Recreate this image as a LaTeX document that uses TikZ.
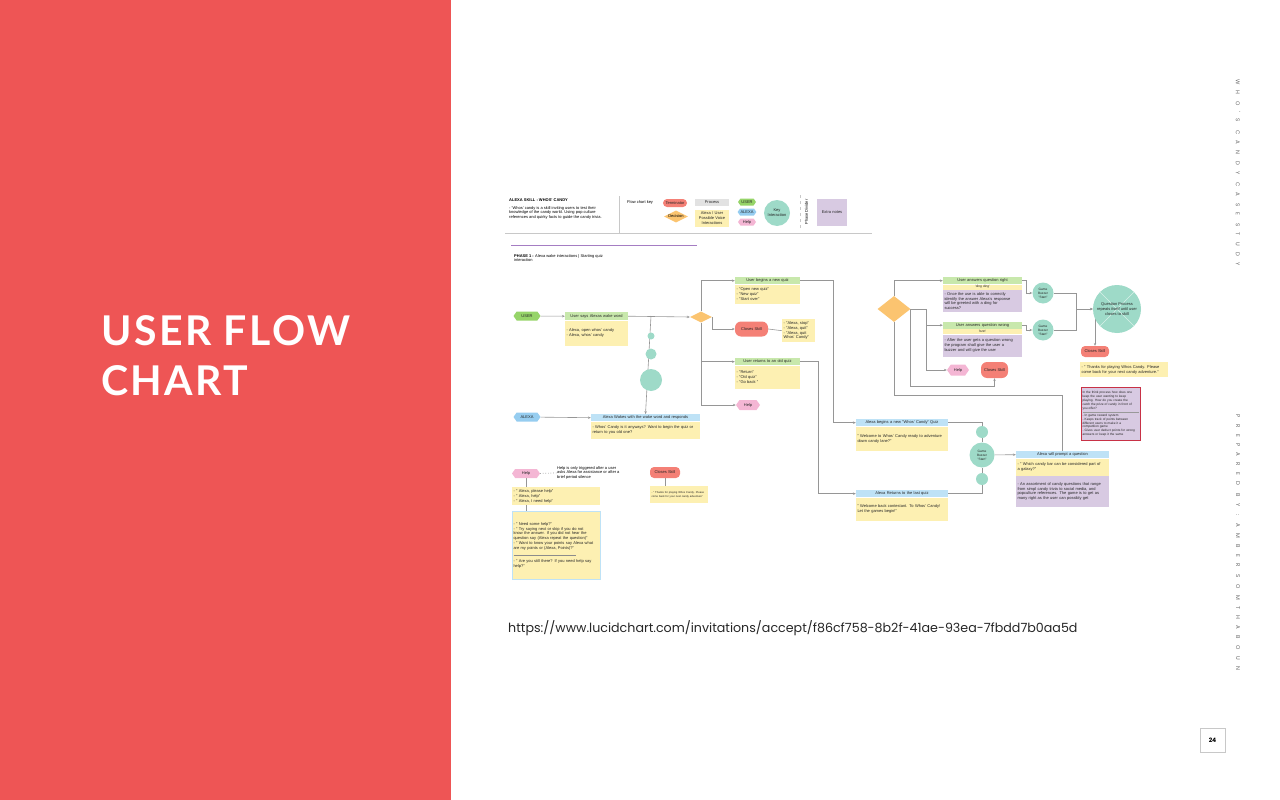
\documentclass[tikz,border=0pt]{standalone}
\usepackage{fontspec}
\setmainfont{Liberation Sans}
\newfontfamily\titlefont{Lato}
\newfontfamily\urlfont{Poppins}
\usetikzlibrary{positioning,shapes.geometric,shapes.symbols,arrows.meta,backgrounds}

\definecolor{panelred}{RGB}{238,85,85}
\definecolor{hdrgreen}{RGB}{200,232,172}
\definecolor{hdrblue}{RGB}{190,226,246}
\definecolor{bodyyellow}{RGB}{253,240,178}
\definecolor{notepurple}{RGB}{216,202,226}
\definecolor{notered}{RGB}{200,50,70}
\definecolor{procgray}{RGB}{226,226,226}
\definecolor{tagusr}{RGB}{150,212,105}
\definecolor{tagalx}{RGB}{150,205,240}
\definecolor{taghelp}{RGB}{244,182,212}
\definecolor{pillred}{RGB}{244,128,118}
\definecolor{decorange}{RGB}{251,196,112}
\definecolor{keyteal}{RGB}{158,218,200}
\definecolor{linegray}{RGB}{150,150,150}
\definecolor{rulegray}{RGB}{200,200,200}
\definecolor{phasepurple}{RGB}{165,125,195}

\newcommand{\cf}{\fontsize{4}{4.8}\selectfont}
\newcommand{\cfs}{\fontsize{3.2}{3.9}\selectfont}
\newcommand{\cfxs}{\fontsize{2.7}{3.4}\selectfont}

\tikzset{
    conn/.style={draw=linegray, line width=0.6pt},
    arr/.style={conn, -{Stealth[length=2.8pt, width=2.4pt]}},
    box/.style={rectangle, anchor=north, inner xsep=1.5pt, inner ysep=0.6pt, font=\cf, align=left, text=black!85},
    hdrg/.style={box, fill=hdrgreen, align=center, minimum height=7pt},
    hdrb/.style={box, fill=hdrblue, align=center, minimum height=7pt},
    voice/.style={box, fill=bodyyellow},
    xnote/.style={box, fill=notepurple},
    tagbox/.style={signal, signal to=west and east, signal pointer angle=110, inner sep=0.5pt, font=\cf, text=black!85},
    usrtag/.style={tagbox, fill=tagusr},
    alxtag/.style={tagbox, fill=tagalx},
    hlptag/.style={tagbox, fill=taghelp},
    term/.style={rectangle, rounded corners=4pt, fill=pillred, font=\cf, inner sep=0.5pt, text=black!85},
    decision/.style={diamond, fill=decorange, inner sep=0pt},
    keyint/.style={circle, fill=keyteal, font=\cf, align=center, inner sep=0pt, text=black!85},
    sidetext/.style={rotate=-90, text=black!60, font=\urlfont\fontsize{5.5}{6}\selectfont\addfontfeature{LetterSpace=116}}
}

\begin{document}
\begin{tikzpicture}[x=1pt, y=-1pt]
    \useasboundingbox (0,0) rectangle (1280,800);

    % side panel
    \fill[panelred] (0,0) rectangle (451,800);
    \node[anchor=base west, inner sep=0pt, text=white, font=\titlefont\bfseries\fontsize{41}{50}\selectfont\addfontfeature{LetterSpace=6}] (title1) at (101,345) {USER FLOW};
    \node[anchor=base west, inner sep=0pt, text=white, font=\titlefont\bfseries\fontsize{41}{50}\selectfont\addfontfeature{LetterSpace=6}] (title2) at (101,395) {CHART};

    % right margin
    \node[sidetext] (side1) at (1238,172.5) {WHO'S CANDY CASE STUDY};
    \node[sidetext] (side2) at (1238,542.5) {PREPARED BY : AMBER SOMTHABOUN};
    \node[draw=rulegray, minimum width=25pt, minimum height=24pt, font=\urlfont\bfseries\fontsize{6}{7}\selectfont] (pgno) at (1212.5,740) {24};

    % link
    \node[anchor=base west, inner sep=0pt, text=black!85, font=\urlfont\fontsize{12.65}{14}\selectfont] (link) at (508,632) {https://www.lucidchart.com/invitations/accept/f86cf758-8b2f-41ae-93ea-7fbdd7b0aa5d};

    % chart header
    \node[anchor=west, inner sep=0pt, font=\cf\bfseries] (sktitle) at (509,200) {ALEXA SKILL : WHOS' CANDY};
    \node[anchor=north west, inner sep=0pt, font=\cf, align=left] (skdesc) at (509,206) {- 'Whos' candy is a skill inviting users to test their\\knowledge of the candy world. Using pop culture\\references and quirky facts to guide the candy trivia.};
    \draw[rulegray, line width=0.8pt] (619,196) -- (619,233);
    \draw[rulegray, line width=0.8pt] (505,233) -- (872,233);
    \node[anchor=west, inner sep=0pt, font=\cf] (keylbl) at (627,202) {Flow chart key};
    \node[term, minimum width=24pt, minimum height=8pt] (kterm) at (675,203) {Terminator};
    \node[decision, minimum width=24pt, minimum height=12pt, label={[font=\cf]center:Decision}] (kdec) at (676,216.5) {};
    \node[box, fill=procgray, anchor=center, align=center, text width=31pt, minimum height=7pt] (kproc) at (712,202.5) {Process};
    \node[voice, anchor=center, align=center, text width=31pt, minimum height=17pt] (kvoice) at (712,218) {Alexa / User\\Possible Voice\\Interactions};
    \node[usrtag, minimum width=18pt, minimum height=7pt] (kusr) at (747,202) {USER};
    \node[alxtag, minimum width=18pt, minimum height=7pt] (kalx) at (747,212) {ALEXA};
    \node[hlptag, minimum width=18pt, minimum height=7pt] (khlp) at (747,222) {Help};
    \node[keyint, minimum size=26pt] (kkey) at (777,213) {Key\\Interaction};
    \draw[rulegray, dashed] (800,195) -- (800,229);
    \node[rotate=90, inner sep=0pt, font=\cf] (kdiv) at (806.5,212) {Phase Divider};
    \node[xnote, anchor=center, align=center, text width=27pt, minimum height=27pt] (kextra) at (832,212.5) {Extra notes};

    % phase 1
    \draw[phasepurple, line width=1.6pt] (511,245.5) -- (697,245.5);
    \node[anchor=north west, inner sep=0pt, font=\cf, align=left] (phase) at (514,254) {\textbf{PHASE 1 :} Alexa wake interactions | Starting quiz\\interaction};

    % wake word
    \node[usrtag, minimum width=27pt, minimum height=9pt] (usr) at (527,316) {USER};
    \node[hdrg, text width=60pt, minimum height=8pt] (ush) at (596.5,312) {User says Alexas wake word};
    \node[voice, text width=60pt, minimum height=25pt, below=0pt of ush] (usb) {- Alexa, open whos' candy\\- Alexa, whos' candy};
    \node[decision, minimum width=22pt, minimum height=11pt] (dec1) at (701,317) {};
    \coordinate (tealtop) at (651,316);
    \node[keyint, minimum size=7pt] (tc1) at (651,336) {};
    \node[keyint, minimum size=11pt] (tc2) at (651,354) {};
    \node[keyint, minimum size=22pt] (tc3) at (651,380) {};
    \node[alxtag, minimum width=27pt, minimum height=9pt] (alx) at (527,417) {ALEXA};
    \node[hdrb, text width=106pt] (awh) at (645.5,414) {Alexa Wakes with the wake word and responds};
    \node[voice, text width=106pt, minimum height=17pt, below=0pt of awh] (awb) {- Whos' Candy is it anyways? Want to begin the quiz or\\return to you old one?};

    % user choices
    \node[hdrg, text width=62pt] (ubh) at (767.5,277) {User begins a new quiz};
    \node[voice, text width=62pt, minimum height=19pt, below=0pt of ubh] (ubb) {- "Open new quiz"\\- "New quiz"\\- "Start over"};
    \node[term, minimum width=33pt, minimum height=15pt, rounded corners=6pt] (cls1) at (751.5,329) {Closes Skill};
    \node[voice, text width=30pt, minimum height=23pt] (cls1b) at (798.5,319) {- "Alexa, stop"\\- "Alexa, quit"\\- "Alexa, quit\\Whos' Candy"};
    \node[hdrg, text width=62pt] (urh) at (767.5,358) {User returns to an old quiz};
    \node[voice, text width=62pt, minimum height=23pt, below=0pt of urh] (urb) {- "Return"\\- "Old quiz"\\- "Go back "};
    \node[hlptag, minimum width=24pt, minimum height=10pt] (hlp1) at (748,405) {Help};

    % alexa starts quiz
    \node[hdrb, text width=89pt] (anh) at (902,419) {Alexa begins a new "Whos' Candy" Quiz};
    \node[voice, text width=89pt, minimum height=24pt, below=0pt of anh] (anb) {" Welcome to Whos' Candy ready to adventure\\down candy lane?"};
    \node[hdrb, text width=89pt] (arh) at (902,490) {Alexa Returns to the last quiz};
    \node[voice, text width=89pt, minimum height=23pt, below=0pt of arh] (arb) {" Welcome back contestant. To Whos' Candy!\\Let the games begin!"};
    \node[keyint, minimum size=12pt] (bs1) at (982,432) {};
    \node[keyint, minimum size=25pt, font=\cfs] (bz1) at (982,455) {Game\\Buzzer\\"Start"};
    \node[keyint, minimum size=12pt] (bs2) at (982,479) {};
    \node[hdrb, text width=90pt] (prh) at (1062.5,451) {Alexa will prompt a question};
    \node[voice, text width=90pt, minimum height=17pt, below=0pt of prh] (prb) {- " Which candy bar can be considered part of\\a galaxy?"};
    \node[xnote, text width=90pt, minimum height=31pt, below=0pt of prb] (prn) {- An assortment of candy questions that range\\from simpl candy trivia to social media, and\\popculture references. The game is to get as\\many right as the user can possibly get};

    % answers
    \node[decision, minimum width=33pt, minimum height=26pt] (dec2) at (894,309) {};
    \node[hdrg, text width=76pt] (rgh) at (982.5,277) {User answers question right};
    \node[voice, align=center, text width=76pt, minimum height=5pt, inner ysep=0pt, font=\cfs, below=0pt of rgh] (rgy) {'ding ding'};
    \node[xnote, text width=76pt, minimum height=22pt, below=0pt of rgy] (rgn) {- Once the use is able to correctly\\identify the answer Alexa's response\\will be greeted with a ding for\\success?};
    \node[hdrg, text width=76pt] (wrh) at (982.5,321.5) {User answers question wrong};
    \node[voice, align=center, text width=76pt, minimum height=5pt, inner ysep=0pt, font=\cfs, below=0pt of wrh] (wry) {'bzzt'};
    \node[xnote, text width=76pt, minimum height=22pt, below=0pt of wry] (wrn) {- After the user gets a question wrong\\the program shall give the user a\\buzzer and will give the user};
    \node[hlptag, minimum width=22pt, minimum height=11pt] (hlp2) at (958,370) {Help};
    \node[term, minimum width=27pt, minimum height=16pt, rounded corners=6pt] (cls3) at (994.5,370) {Closes Skill};
    \node[keyint, minimum size=21pt, font=\cfs] (bz2) at (1043,293) {Game\\Buzzer\\"Start"};
    \node[keyint, minimum size=21pt, font=\cfs] (bz3) at (1043,330) {Game\\Buzzer\\"Start"};
    \node[keyint, minimum size=48pt, path picture={
        \draw[white, opacity=0.6, line width=0.6pt] (path picture bounding box.north west) -- (path picture bounding box.south east)
            (path picture bounding box.north east) -- (path picture bounding box.south west);}] (qproc) at (1117,309) {Question Process\\repeats itself until user\\closes to skill};
    \node[term, minimum width=28pt, minimum height=11pt] (cls2) at (1095,351.5) {Closes Skill};
    \node[voice, text width=85pt, minimum height=15pt] (cls2b) at (1124,362) {- " Thanks for playing Whos Candy. Please\\come back for your next candy adventure."};
    \node[xnote, draw=notered, line width=1pt, text width=56pt, minimum height=53pt, font=\cfs] (think) at (1110.5,387) {In the think process how does one\\keep the user wanting to keep\\playing. How do you create the\\catch the prize of candy in front of\\you offer?\\[-1pt]\textcolor{black!40}{\rule{56pt}{0.3pt}}\\- In game reward system\\- Keeps track of points between\\different users to make it a\\competition game\\- Gives user deduct points for wrong\\answers or keep it the same};

    % help and close
    \node[hlptag, minimum width=28pt, minimum height=9pt] (hlp3) at (526,473.5) {Help};
    \node[anchor=north west, inner sep=0pt, font=\cf, align=left] (hnote) at (557,466) {Help is only triggered after a user\\asks Alexa for assistance or after a\\brief period silence};
    \node[voice, text width=85pt, minimum height=18pt] (hlpa) at (556,487) {- " Alexa, please help"\\- " Alexa, help"\\- " Alexa, I need help"};
    \node[voice, draw=hdrblue, line width=0.8pt, text width=85pt, minimum height=68pt] (hlpb) at (556,511) {- " Need some help?"\\- " Try saying next or skip if you do not\\know the answer. If you did not hear the\\question say (Alexa repeat the question)"\\- " Want to know your points say Alexa what\\are my points or (Alexa, Points)?"\\[1pt]\textcolor{black!45}{\rule{62pt}{0.3pt}}\\[3pt]- " Are you still there? If you need help say\\help?"};
    \node[term, minimum width=30pt, minimum height=11pt] (cls4) at (665,472.5) {Closes Skill};
    \node[voice, text width=55pt, minimum height=17pt, font=\cfxs] (cls4b) at (679,486) {- " Thanks for playing Whos Candy. Please\\come back for your next candy adventure"};

    % connectors
    \begin{scope}[on background layer]
        \draw[arr] (usr) -- (ush.west);
        \draw[arr] (ush.east) -- (dec1.west);
        \draw[arr] (tealtop) -- (awh.north);
        \draw[arr] (alx) -- (awh.west);
        \draw[arr] (dec1.north) |- (ubh.west);
        \draw[arr] (dec1.east) |- (cls1.west);
        \draw[conn] (cls1.east) -- (cls1b.west);
        \draw[arr] (dec1.south) |- (urh.west);
        \draw[arr] (dec1.south) |- (hlp1.west);
        \draw[arr] (ubh.east) -- ++(33,0) |- (anh.west);
        \draw[arr] (urh.east) -- ++(18,0) |- (arh.west);
        \draw[conn] (anh.east) -| (bz1);
        \draw[conn] (arh.east) -| (bz1);
        \draw[arr] (bz1) -- (prh.west);
        \draw[conn] (prh.north) -- ++(0,-56) -| (dec2.south);
        \draw[arr] (dec2.north) |- (rgh.west);
        \draw[conn] (dec2.east) -- ++(16,0) coordinate (d2r);
        \draw[arr] (d2r) |- (wrh.west);
        \draw[arr] (d2r) |- (hlp2.west);
        \draw[arr] (dec2.east) -- ++(0,77) -| (cls3.south);
        \draw[arr] (rgh.east) -- ++(4,0) |- (bz2.west);
        \draw[arr] (wrh.east) -- ++(4,0) |- (bz3.west);
        \draw[arr] (bz2) -- ++(33,0) |- (qproc.west);
        \draw[arr] (bz3) -- ++(33,0) |- (qproc.west);
        \draw[arr] (cls2.north |- qproc.center) -- (cls2.north);
        \draw[conn, dotted, line width=0.8pt] (hlp3.east) -- (hnote.west);
        \draw[conn] (hlp3.south) -- (hlp3.south |- hlpa.north);
        \draw[conn] (hlp3.south |- hlpa.south) -- (hlp3.south |- hlpb.north);
        \draw[conn] (cls4.south) -- (cls4.south |- cls4b.north);
    \end{scope}
\end{tikzpicture}
\end{document}
